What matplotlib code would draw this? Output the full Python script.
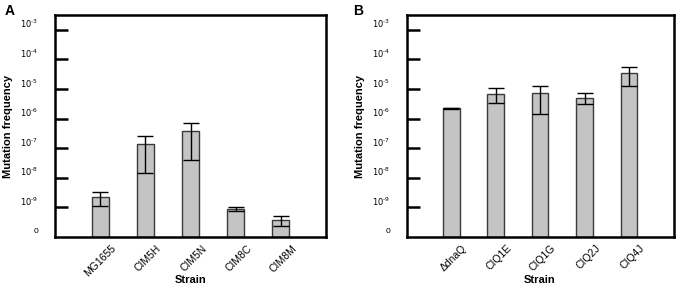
import numpy as np
import matplotlib
matplotlib.use('Agg')
import matplotlib.pyplot as plt
from matplotlib.ticker import FixedLocator, NullFormatter

plt.rcParams['font.family'] = ['Liberation Sans', 'DejaVu Sans']

# ---- data ----
strains_a = ['MG1655', 'CIM5H', 'CIM5N', 'CIM8C', 'CIM8M']
freq_a = [2.2e-9, 1.35e-7, 3.7e-7, 8.8e-10, 3.8e-10]
sd_a = [1.1e-9, 1.2e-7, 3.3e-7, 1.4e-10, 1.4e-10]

strains_b = ['\u0394dnaQ', 'CIQ1E', 'CIQ1G', 'CIQ2J', 'CIQ4J']
freq_b = [2.2e-6, 7.0e-6, 7.2e-6, 5.1e-6, 3.4e-5]
sd_b = [0.04e-6, 3.6e-6, 5.8e-6, 2.1e-6, 2.1e-5]

exps = [-10, -9, -8, -7, -6, -5, -4, -3]
exp_labels = ['0'] + ['$10^{\u2010%d}$' % -e for e in exps[1:]]
bottom = 1e-10

fig = plt.figure(figsize=(6.81, 2.91), dpi=100)
ax_a = fig.add_axes([0.0808, 0.1856, 0.398, 0.763])
ax_b = fig.add_axes([0.597, 0.1856, 0.392, 0.763])


def panel(ax, strains, freq, sd, letter, lx):
    x = np.arange(len(strains))
    heights = [f - bottom for f in freq]
    ax.bar(x, heights, bottom=bottom, width=0.38, color='#c4c4c4',
           edgecolor='#3a3a3a', linewidth=1.0, zorder=2)
    ax.errorbar(x, freq, yerr=sd, fmt='none', ecolor='black',
                elinewidth=1.0, capsize=6, capthick=1.0, zorder=3)
    ax.set_yscale('log')
    ax.set_ylim(bottom, 10 ** -2.5)
    ax.set_xlim(-1, 5)
    # decade ticks drawn inside, labels sit a bit above them
    ax.yaxis.set_major_locator(FixedLocator([10.0 ** e for e in exps[1:]]))
    ax.yaxis.set_major_formatter(NullFormatter())
    ax.yaxis.set_minor_locator(FixedLocator([10.0 ** (e + 0.22) for e in exps]))
    ax.set_yticklabels(exp_labels, minor=True)
    ax.tick_params(axis='y', which='major', direction='in', length=9, width=1.8)
    ax.tick_params(axis='y', which='minor', length=0, pad=12, labelsize=6)
    # strain names sit a little right of the bars, rotated
    ax.set_xticks(x)
    ax.set_xticklabels([])
    ax.tick_params(axis='x', length=0)
    for xi, name in zip(x, strains):
        ax.text(xi + 0.24, -0.027, name, transform=ax.get_xaxis_transform(),
                rotation=45, ha='right', va='top', rotation_mode='anchor',
                fontsize=7.5)
    for s in ax.spines.values():
        s.set_linewidth(1.8)
    ax.set_ylabel('Mutation frequency', fontsize=8, fontweight='bold')
    ax.yaxis.set_label_coords(-0.156, 0.5)
    ax.set_xlabel('Strain', fontsize=8, fontweight='bold')
    ax.xaxis.set_label_coords(0.5, -0.172)
    ax.text(lx, 1.018, letter, transform=ax.transAxes, fontsize=10,
            fontweight='bold', va='center', ha='center')


panel(ax_a, strains_a, freq_a, sd_a, 'A', -0.166)
panel(ax_b, strains_b, freq_b, sd_b, 'B', -0.183)

fig.savefig('out.png', dpi=100)
